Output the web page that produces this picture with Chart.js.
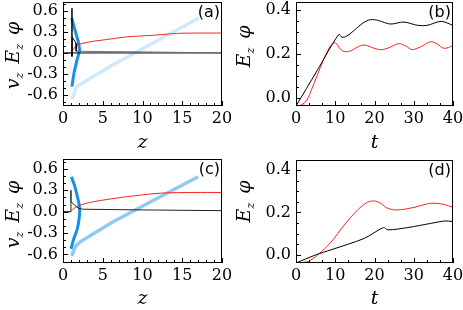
<!DOCTYPE html>
<html lang="en">
<head>
  <meta charset="UTF-8">
  <title>v_z, E_z, phi</title>
  <script src="https://cdn.jsdelivr.net/npm/chart.js"></script>
  <style>
    body { margin: 0; background: #fff; }
    #wrap { position: relative; width: 463px; height: 310px; }
    .pane { position: absolute; }
  </style>
</head>
<body>
<div id="wrap">
  <div class="pane" style="left:0;top:0;width:231px;height:155px"><canvas id="ca"></canvas></div>
  <div class="pane" style="left:231px;top:0;width:232px;height:155px"><canvas id="cb"></canvas></div>
  <div class="pane" style="left:0;top:155px;width:231px;height:155px"><canvas id="cc"></canvas></div>
  <div class="pane" style="left:231px;top:155px;width:232px;height:155px"><canvas id="cd"></canvas></div>
</div>
<script>
// axis ticks
const zTicks = [0, 5, 10, 15, 20];
const vTicks = [-0.6, -0.3, 0.0, 0.3, 0.6];
const tTicks = [0, 10, 20, 30, 40];
const eTicks = [0.0, 0.2, 0.4];

// (a) phase space, z vs v_z / E_z / phi
const aRedZ = [0, 0.9, 1.3, 1.72, 2.6, 3.8, 6, 8, 10, 12.2, 14.3, 17, 20];
const aRedV = [0, 0, 0.05, 0.11, 0.14, 0.167, 0.2, 0.23, 0.245, 0.26, 0.28, 0.285, 0.285];
const aSpikeZ = [1.1, 1.13, 1.13, 1.15, 1.64, 1.66];
const aSpikeV = [0, 0.64, -0.05, 0.23, 0.14, 0.025];
const aTailZ = [1.66, 5, 10, 14.7, 20];
const aTailV = [0.025, 0.02, 0.015, 0.008, 0.0];
const aBaseZ = [0, 20];
const aBaseV = [0, 0];
const aBlueZ = [1.1, 1.5, 1.93, 2.1, 1.72, 1.38, 1.12];
const aBlueV = [0.50, 0.33, 0.16, 0.04, -0.12, -0.29, -0.48];
const aPaleZ = [1.13, 1.7, 2.3, 6.3, 10, 17.1];
const aPaleV = [-0.66, -0.49, -0.44, -0.17, 0.06, 0.5];

// (b) time series
const bBlackT = [0, 5.4, 10.9, 11.7, 13, 15, 17, 19, 21, 24, 27.5, 31, 33.4, 37, 40];
const bBlackE = [-0.036, 0.125, 0.289, 0.276, 0.282, 0.31, 0.34, 0.356, 0.352, 0.336, 0.345, 0.33, 0.33, 0.348, 0.33];
const bRedT = [0, 1.5, 2.8, 4, 5.4, 7.1, 8.8, 10, 11.3, 12.2, 13.9, 15.5, 17.3, 19, 20.7, 22.4, 24.5, 26.2, 28, 29.6, 32, 34.3, 36, 37.7, 40];
const bRedE = [-0.036, -0.03, -0.009, 0.04, 0.103, 0.177, 0.237, 0.251, 0.222, 0.211, 0.214, 0.23, 0.241, 0.232, 0.222, 0.221, 0.235, 0.247, 0.236, 0.22, 0.235, 0.256, 0.245, 0.226, 0.237];

// (c) phase space
const cRedZ = [0, 0.9, 1.3, 1.93, 3.8, 8, 12.2, 16.4, 20];
const cRedV = [0, 0, 0.04, 0.084, 0.14, 0.21, 0.26, 0.27, 0.27];
const cBlackZ = [0, 0.98, 1.0, 1.0, 1.0, 1.9, 2.5, 10, 20];
const cBlackV = [0, 0, 0.30, 0.0, 0.14, 0.05, 0.035, 0.025, 0.015];
const cBlueZ = [1.05, 1.45, 1.75, 2.0, 2.1, 2.0, 1.8, 1.3, 1.02];
const cBlueV = [0.49, 0.37, 0.24, 0.12, 0.01, -0.12, -0.24, -0.40, -0.52];
const cPaleZ = [1.1, 1.6, 2.2, 6.3, 9.2, 17];
const cPaleV = [-0.62, -0.48, -0.42, -0.14, 0.03, 0.49];

// (d) time series
const dBlackT = [0, 5, 8.9, 17.4, 22.3, 23.4, 28.5, 34.5, 37.9, 40];
const dBlackE = [-0.038, 0.0, 0.024, 0.078, 0.129, 0.118, 0.129, 0.149, 0.16, 0.157];
const dRedT = [0, 3, 5.5, 8.9, 12.3, 15.7, 18.2, 19.9, 21.6, 23.3, 25.8, 30.1, 34.3, 37.7, 40];
const dRedE = [-0.038, -0.031, 0.0, 0.06, 0.141, 0.212, 0.248, 0.254, 0.243, 0.22, 0.212, 0.224, 0.243, 0.238, 0.223];

const SERIF = '"DejaVu Serif", serif';
const pts = (xs, ys) => xs.map((x, i) => ({ x: x, y: ys[i] }));

function line(xs, ys, color, width, tension) {
  return {
    data: pts(xs, ys), borderColor: color, borderWidth: width,
    showLine: true, pointRadius: 0, tension: tension || 0, fill: false
  };
}

// frame, inward ticks, panel letter and rotated y title with subscripts
const decor = {
  id: 'decor',
  afterDatasetsDraw(chart, args, o) {
    const { ctx, chartArea: a, scales: { x, y } } = chart;
    ctx.save();
    ctx.strokeStyle = '#000';
    ctx.lineWidth = 1;
    ctx.beginPath();
    for (let v = x.min; v <= x.max + 1e-9; v += o.xMinor) {
      const px = Math.round(x.getPixelForValue(v)) + 0.5;
      const major = o.xMajor.some(m => Math.abs(m - v) < 1e-6);
      ctx.moveTo(px, a.bottom); ctx.lineTo(px, a.bottom - (major ? 5 : 3));
    }
    const y0 = Math.ceil(y.min / o.yMinor - 1e-9) * o.yMinor;
    for (let v = y0; v <= y.max + 1e-9; v += o.yMinor) {
      const py = Math.round(y.getPixelForValue(v)) + 0.5;
      const major = o.yMajor.some(m => Math.abs(m - v) < 1e-6);
      ctx.moveTo(a.left, py); ctx.lineTo(a.left + (major ? 5 : 3), py);
    }
    ctx.stroke();
    ctx.strokeRect(a.left + 0.5, a.top + 0.5, a.right - a.left - 1, a.bottom - a.top - 1);

    ctx.fillStyle = '#000';
    ctx.font = '16px "DejaVu Sans", sans-serif';
    ctx.textAlign = 'right';
    ctx.textBaseline = 'top';
    ctx.fillText(o.letter, a.right - 2, a.top + 3);

    const main = 'italic 19px ' + SERIF, sub = 'italic 11px ' + SERIF;
    ctx.textAlign = 'left';
    ctx.textBaseline = 'alphabetic';
    let total = 0;
    const w = o.title.map(p => {
      ctx.font = p.sub ? sub : main;
      const m = ctx.measureText(p.t).width;
      total += m + (p.gap || 0);
      return m;
    });
    ctx.translate(o.titleX, o.titleY);
    ctx.rotate(-Math.PI / 2);
    let xx = -total / 2;
    o.title.forEach((p, i) => {
      ctx.font = p.sub ? sub : main;
      ctx.fillText(p.t, xx, p.sub ? 4 : 0);
      xx += w[i] + (p.gap || 0);
    });
    ctx.restore();
  }
};

function makeChart(id, g, xr, yr, datasets, deco) {
  const W = g.w, H = g.h;
  return new Chart(document.getElementById(id), {
    type: 'scatter',
    data: { datasets: datasets },
    plugins: [decor],
    options: {
      responsive: true, maintainAspectRatio: false, animation: false,
      layout: { padding: { top: g.top, right: W - g.right, left: 0, bottom: 0 } },
      plugins: { legend: { display: false }, tooltip: { enabled: false }, decor: deco },
      scales: {
        x: {
          type: 'linear', min: xr.min, max: xr.max,
          grid: { display: false, drawTicks: false }, border: { display: false },
          afterBuildTicks: s => { s.ticks = xr.ticks.map(v => ({ value: v })); },
          afterFit: s => { s.height = H - g.bottom; s.paddingLeft = 0; s.paddingRight = 0; },
          ticks: { autoSkip: false, maxRotation: 0, padding: 3, color: '#000',
                   font: { family: SERIF, size: 16 }, callback: v => String(v) },
          title: { display: true, text: xr.title, color: '#000', padding: { top: 0, bottom: g.tpad },
                   font: { family: SERIF, size: 19, style: 'italic', lineHeight: 1.2 } }
        },
        y: {
          type: 'linear', min: yr.min, max: yr.max,
          grid: { display: false, drawTicks: false }, border: { display: false },
          afterBuildTicks: s => { s.ticks = yr.ticks.map(v => ({ value: v })); },
          afterFit: s => { s.width = g.left; s.paddingTop = 0; s.paddingBottom = 0; },
          ticks: { autoSkip: false, padding: 5, color: '#000',
                   font: { family: SERIF, size: 16 }, callback: v => v.toFixed(1) }
        }
      }
    }
  });
}

const RED = '#ff2020', BLACK = '#000000', BLUE = '#1690e8';
const vTitle = [{ t: 'v' }, { t: 'z', sub: true, gap: 9 }, { t: 'E' }, { t: 'z', sub: true, gap: 9 }, { t: '\u03c6' }];
const eTitle = [{ t: 'E' }, { t: 'z', sub: true, gap: 9 }, { t: '\u03c6' }];

makeChart('ca', { w: 231, h: 155, left: 63, top: 2, right: 222, bottom: 106, tpad: 1 },
  { min: 0, max: 20, ticks: zTicks, title: 'z' },
  { min: -0.76, max: 0.73, ticks: vTicks },
  [
    line(aSpikeZ, aSpikeV, BLACK, 1),
    line(aTailZ, aTailV, '#707070', 1),
    line(aBaseZ, aBaseV, BLACK, 1),
    line(aRedZ, aRedV, RED, 1, 0.3),
    line(aBlueZ, aBlueV, BLUE, 3),
    line(aPaleZ, aPaleV, '#cfe9fb', 3.5)
  ],
  { letter: '(a)', xMinor: 1, xMajor: zTicks, yMinor: 0.1, yMajor: vTicks, title: vTitle, titleX: 18.5, titleY: 55.5 });

makeChart('cb', { w: 232, h: 155, left: 65, top: 2, right: 222, bottom: 106, tpad: 1 },
  { min: 0, max: 40, ticks: tTicks, title: 't' },
  { min: -0.036, max: 0.436, ticks: eTicks },
  [
    line(bBlackT, bBlackE, BLACK, 1, 0.3),
    line(bRedT, bRedE, RED, 1, 0.35)
  ],
  { letter: '(b)', xMinor: 10 / 3, xMajor: tTicks, yMinor: 0.05, yMajor: eTicks, title: eTitle, titleX: 18.5, titleY: 46.5 });

makeChart('cc', { w: 231, h: 155, left: 63, top: 4, right: 222, bottom: 108, tpad: 0 },
  { min: 0, max: 20, ticks: zTicks, title: 'z' },
  { min: -0.72, max: 0.74, ticks: vTicks },
  [
    line(cBlackZ, cBlackV, '#222222', 1),
    line(cRedZ, cRedV, RED, 1, 0.3),
    line(cBlueZ, cBlueV, BLUE, 3, 0.3),
    line(cPaleZ, cPaleV, '#8ecbf3', 3.5)
  ],
  { letter: '(c)', xMinor: 1, xMajor: zTicks, yMinor: 0.1, yMajor: vTicks, title: vTitle, titleX: 18.5, titleY: 59.5 });

makeChart('cd', { w: 232, h: 155, left: 65, top: 5, right: 222, bottom: 108, tpad: 0 },
  { min: 0, max: 40, ticks: tTicks, title: 't' },
  { min: -0.038, max: 0.447, ticks: eTicks },
  [
    line(dBlackT, dBlackE, BLACK, 1, 0.3),
    line(dRedT, dRedE, RED, 1, 0.35)
  ],
  { letter: '(d)', xMinor: 10 / 3, xMajor: tTicks, yMinor: 0.05, yMajor: eTicks, title: eTitle, titleX: 18.5, titleY: 46.5 });
</script>
</body>
</html>
